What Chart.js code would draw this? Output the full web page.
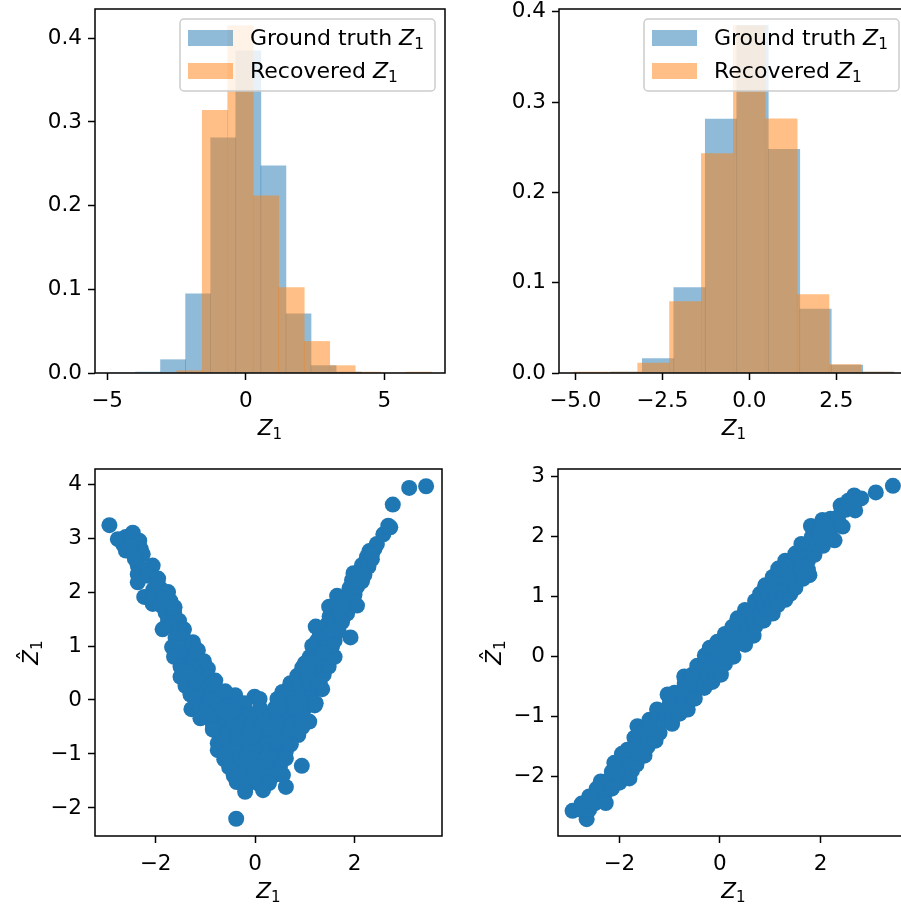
<!DOCTYPE html>
<html>
<head>
<meta charset="utf-8">
<script src="https://cdn.jsdelivr.net/npm/chart.js@4.4.1/dist/chart.umd.min.js"></script>
<style>
  html, body { margin: 0; padding: 0; background: #fff; overflow: hidden; }
  body { width: 901px; height: 906px; position: relative; }
  canvas { position: absolute; }
</style>
</head>
<body>
<canvas id="histLeft" width="450" height="453" style="left:0;top:0;width:450px;height:453px"></canvas>
<canvas id="histRight" width="470" height="453" style="left:450px;top:0;width:470px;height:453px"></canvas>
<canvas id="scatterLeft" width="450" height="453" style="left:0;top:453px;width:450px;height:453px"></canvas>
<canvas id="scatterRight" width="470" height="453" style="left:450px;top:453px;width:470px;height:453px"></canvas>
<script>
// ---- data ----
const seriesLabels = ['Ground truth', 'Recovered'];

// ground truth Z1 histogram (density), same sample in both top panels
const truthEdges = [-4.885, -3.98, -3.075, -2.17, -1.265, -0.36, 0.545, 1.45, 2.355, 3.26, 4.165];
const truthDensity = [0, 0.0011, 0.0159, 0.0947, 0.281, 0.385, 0.2475, 0.0708, 0.0088, 0.0011];

// recovered Z1, left model
const recLeftEdges = [-2.49, -1.57, -0.65, 0.27, 1.19, 2.11, 3.03, 3.95, 4.87, 5.79, 6.71];
const recLeftDensity = [0.0028, 0.314, 0.415, 0.2117, 0.1022, 0.0377, 0.0088, 0.0011, 0, 0.0011];

// recovered Z1, right model
const recRightEdges = [-5.04, -4.12, -3.21, -2.29, -1.38, -0.46, 0.46, 1.375, 2.29, 3.21, 4.13];
const recRightDensity = [0.0011, 0.0011, 0.011, 0.079, 0.243, 0.3846, 0.2813, 0.0867, 0.0092, 0.0011];

// tick labels
const histLeftXTicks = [-5, 0, 5];
const histRightXTicks = [-5, -2.5, 0, 2.5];
const histYTicks = [0, 0.1, 0.2, 0.3, 0.4];
const scatterXTicks = [-2, 0, 2];
const scatterLeftYTicks = [-2, -1, 0, 1, 2, 3, 4];
const scatterRightYTicks = [-2, -1, 0, 1, 2, 3];

// scatter: Z1 vs recovered Z1 (left: V shape)
const vZ = [
  -2.93, -2.46, -2.76, -2.6, -2.65, -2.5, -2.33, -2.6, -2.45, -2.3, -2.26, -2.42, -2.36, -2.06, -2.36,
  -2.36, -1.96, -2.05, -1.9, -1.75, -2.23, -2.05, -1.85, -1.7, -2.06, -1.9, -1.75, -1.8, -1.63,
  -1.75, -1.53, -1.86, -1.7, -1.55, -1.43, -1.6, -1.43, -1.25, -1.67, -1.5, -1.3, -1.15,
  -1.63, -1.43, -1.23, -1.03, -1.5, -1.3, -1.1, -0.95, -1.5, -1.3, -1.1, -0.95, -0.8,
  -1.4, -1.2, -1.0, -0.8, -0.65, -1.3, -1.1, -0.9, -0.7, -0.55, -0.4, -0.01, 0.09,
  -1.28, -1.1, -0.95, -0.75, -0.5, -0.3, -0.21, 0.1,
  -1.1, -0.9, -0.7, -0.5, -0.3, -0.1, 0.1, 0.3, 0.5, 0.7, 0.9, 1.09,
  -0.85, -0.65, -0.45, -0.25, -0.05, 0.15, 0.35, 0.55, 0.75, 0.95,
  -0.73, -0.53, -0.33, -0.13, 0.07, 0.27, 0.47, 0.67, 0.87,
  -0.75, -0.55, -0.35, -0.15, 0.05, 0.25, 0.45, 0.72,
  -0.75, -0.55, -0.35, -0.15, 0.05, 0.25, 0.45, 0.62,
  -0.62, -0.42, -0.22, -0.02, 0.18, 0.4, 0.62,
  -0.52, -0.32, -0.12, 0.08, 0.3, 0.5, 0.94,
  -0.43, -0.23, -0.03, 0.17, 0.37, 0.56,
  -0.37, -0.15, 0.05, 0.28, 0.62, 0.16, -0.38,
  0.4, 0.6, 0.8, 1.0, 1.2, 0.45, 0.65, 0.85, 1.05, 1.22, 0.55, 0.75, 0.95, 1.15, 1.35,
  0.71, 0.9, 1.1, 1.3, 0.85, 1.05, 1.25, 1.38, 0.95, 1.15, 1.35, 1.48, 1.1, 1.3, 1.45, 1.6,
  1.15, 1.3, 1.45, 1.55, 1.25, 1.42, 1.6, 1.92, 1.3, 1.5, 1.68, 1.22, 1.45, 1.65,
  1.5, 1.7, 1.85, 1.49, 1.65, 1.85, 2.05, 1.65, 1.85, 2.0, 1.9, 2.05, 1.95, 2.15, 1.98, 2.1,
  2.15, 2.28, 2.25, 2.35, 2.3, 2.4, 2.45, 2.58, 2.68, 2.72, 2.77, 3.10, 3.44,
  -2.5, -2.2, -2.15, -1.95, -1.62, -1.35, -1.2, -0.85, -0.6, -0.45, -0.65, -0.85, -0.45, 0.3, 0.78,
  1.0, 1.18, 1.38, 1.55, 1.75, 2.2, 2.35, 1.05, 0.62, -0.2, 0.0, 0.25, 0.45, -0.6, 0.82
];
const vZhat = [
  3.24, 3.10, 2.98, 3.02, 2.88, 2.92, 2.95, 2.77, 2.78, 2.8, 2.70, 2.62, 2.49, 2.49, 2.33,
  2.18, 2.15, 2.04, 2.06, 2.0, 1.91, 1.9, 1.88, 1.83, 1.78, 1.76, 1.72, 1.62, 1.62,
  1.47, 1.47, 1.31, 1.38, 1.3, 1.31, 1.15, 1.13, 1.07, 0.98, 0.96, 0.95, 0.92,
  0.8, 0.78, 0.77, 0.72, 0.62, 0.62, 0.6, 0.58, 0.43, 0.45, 0.43, 0.42, 0.36,
  0.26, 0.25, 0.24, 0.22, 0.15, 0.1, 0.08, 0.07, 0.05, 0.02, 0.09, 0.06, 0.02,
  -0.17, -0.1, -0.12, -0.09, -0.09, -0.08, -0.06, -0.15,
  -0.34, -0.3, -0.3, -0.28, -0.28, -0.26, -0.3, -0.3, -0.3, -0.3, -0.3, -0.40,
  -0.45, -0.47, -0.45, -0.45, -0.46, -0.45, -0.47, -0.45, -0.45, -0.5,
  -0.62, -0.62, -0.6, -0.62, -0.6, -0.63, -0.6, -0.62, -0.65,
  -0.8, -0.8, -0.78, -0.8, -0.8, -0.82, -0.8, -0.82,
  -0.93, -0.95, -0.95, -0.97, -0.95, -0.95, -0.95, -0.95,
  -1.1, -1.1, -1.12, -1.1, -1.1, -1.1, -1.08,
  -1.25, -1.25, -1.27, -1.25, -1.25, -1.24, -1.22,
  -1.4, -1.42, -1.4, -1.42, -1.4, -1.39,
  -1.52, -1.55, -1.54, -1.54, -1.61, -1.67, -2.20,
  -0.15, -0.15, -0.17, -0.15, -0.1, 0.02, 0.0, 0.0, 0.0, -0.06, 0.15, 0.15, 0.15, 0.15, 0.2,
  0.31, 0.3, 0.31, 0.32, 0.45, 0.45, 0.45, 0.47, 0.6, 0.62, 0.62, 0.62, 0.8, 0.8, 0.8, 0.8,
  1.0, 0.95, 0.95, 1.0, 1.1, 1.12, 1.1, 1.16, 1.25, 1.25, 1.28, 1.36, 1.4, 1.42,
  1.55, 1.55, 1.6, 1.73, 1.75, 1.75, 1.75, 1.93, 1.93, 1.95, 2.07, 2.1, 2.22, 2.2, 2.35, 2.38,
  2.5, 2.47, 2.65, 2.61, 2.76, 2.8, 2.89, 3.07, 3.23, 3.2, 3.62, 3.93, 3.96,
  2.85, 2.42, 2.3, 2.25, 1.72, 0.52, 0.35, 0.3, 0.16, -0.2, -0.2, -0.55, -1.3, -0.5, -0.05,
  0.68, 0.7, 0.88, 1.3, 1.45, 2.32, 2.7, 0.58, -0.8, -1.7, -1.35, -1.05, -0.75, -1.0, -0.12
];

// scatter: Z1 vs recovered Z1 (right: near identity)
const lineZ = [
  -2.65, -2.93, -2.78, -2.6, -2.75, -2.5, -2.27, -2.6, -2.45, -2.3, -2.45, -2.3, -2.15,
  -2.37, -2.2, -2.0, -1.8, -2.15, -2.0, -1.85, -1.75, -2.1, -1.95, -1.8, -1.66,
  -1.95, -1.8, -1.65, -1.5, -1.84, -1.7, -1.55, -1.44, -1.7, -1.55, -1.4, -1.28,
  -1.64, -1.5, -1.35, -1.2, -1.4, -1.25, -1.1, -0.95, -1.25, -1.1, -0.95, -0.8,
  -1.04, -1.0, -0.85, -0.7, -0.64, -0.9, -0.75, -0.6, -0.5,
  -0.71, -0.7, -0.55, -0.4, -0.31, -0.15, -0.55, -0.4, -0.25, -0.1, 0.02,
  -0.45, -0.3, -0.15, 0.0, 0.1, -0.3, -0.15, 0.0, 0.15, 0.27, -0.2, -0.05, 0.1, 0.25,
  -0.05, 0.1, 0.25, 0.4, 0.5, 0.1, 0.25, 0.4, 0.55, 0.67, 0.25, 0.4, 0.55, 0.7,
  0.35, 0.5, 0.65, 0.8, 0.87, 0.5, 0.65, 0.8, 0.95, 1.05, 0.7, 0.85, 1.0, 1.15, 1.3,
  0.8, 0.95, 1.1, 1.25, 1.4, 0.9, 1.05, 1.2, 1.35, 1.5, 1.05, 1.2, 1.35, 1.5, 1.65, 1.78,
  1.16, 1.3, 1.45, 1.6, 1.75, 1.3, 1.45, 1.6, 1.75, 1.5, 1.65, 1.8, 1.88,
  1.62, 1.78, 1.92, 2.05, 1.83, 1.97, 2.12, 2.28, 1.81, 1.97, 2.1, 2.25, 2.44,
  2.04, 2.2, 2.35, 2.4, 2.5, 2.69, 2.55, 2.67, 2.81, 3.10, 3.44
];
const lineZhat = [
  -2.71, -2.57, -2.55, -2.55, -2.45, -2.45, -2.44, -2.33, -2.3, -2.3, -2.2, -2.2, -2.2,
  -2.08, -2.05, -2.1, -2.03, -1.92, -1.95, -1.92, -1.9, -1.77, -1.78, -1.75, -1.8,
  -1.62, -1.65, -1.6, -1.65, -1.55, -1.5, -1.48, -1.5, -1.35, -1.35, -1.38, -1.4,
  -1.16, -1.22, -1.2, -1.27, -1.05, -1.0, -1.05, -1.12, -0.88, -0.9, -0.92, -0.95,
  -0.63, -0.78, -0.75, -0.78, -0.88, -0.6, -0.6, -0.62, -0.7,
  -0.33, -0.45, -0.45, -0.47, -0.52, -0.42, -0.3, -0.3, -0.3, -0.3, -0.3,
  -0.15, -0.15, -0.15, -0.15, -0.12, 0.02, 0.0, 0.0, 0.0, 0.0, 0.15, 0.12, 0.12, 0.12,
  0.25, 0.25, 0.25, 0.25, 0.2, 0.38, 0.38, 0.38, 0.38, 0.35, 0.5, 0.5, 0.5, 0.5,
  0.64, 0.64, 0.64, 0.64, 0.6, 0.78, 0.78, 0.78, 0.78, 0.72, 0.93, 0.91, 0.91, 0.86, 0.95,
  1.05, 1.05, 1.05, 1.05, 1.05, 1.19, 1.19, 1.19, 1.19, 1.15, 1.33, 1.33, 1.33, 1.33, 1.3, 1.36,
  1.47, 1.47, 1.47, 1.47, 1.45, 1.6, 1.6, 1.6, 1.6, 1.72, 1.75, 1.75, 1.7,
  1.88, 1.88, 1.88, 1.85, 2.0, 2.03, 2.05, 1.94, 2.18, 2.16, 2.2, 2.18, 2.17,
  2.28, 2.3, 2.33, 2.52, 2.45, 2.44, 2.6, 2.69, 2.64, 2.74, 2.85
];

// ---- helpers ----
const FONT = 'DejaVu Sans';
const TICK_SIZE = 21.5;
const LEGEND_SIZE = 22;
const BLUE = '#1f77b4';
const BLUE_A = 'rgba(31,119,180,0.5)';
const ORANGE_A = 'rgba(255,127,14,0.5)';

const minus = s => s.replace('-', '\u2212');
const fmtInt = v => minus(String(v));
const fmt1 = v => minus(v.toFixed(1));

function toBars(edges, heights) {
  return heights.map((h, i) => ({ x: (edges[i] + edges[i + 1]) / 2, y: h }));
}
function toPoints(xs, ys) {
  return xs.map((x, i) => ({ x: x, y: ys[i] }));
}

// italic Z (optionally with hat) and a subscript 1, optional upright prefix
function drawZ1(ctx, x, y, size, opts) {
  const prefix = opts.prefix || '';
  ctx.save();
  ctx.fillStyle = '#000';
  ctx.textBaseline = 'alphabetic';
  ctx.textAlign = 'left';
  ctx.font = `${size}px "${FONT}"`;
  const wp = prefix ? ctx.measureText(prefix).width : 0;
  ctx.font = `italic ${size}px "${FONT}"`;
  const wz = ctx.measureText('Z').width;
  ctx.font = `${size * 0.7}px "${FONT}"`;
  const ws = ctx.measureText('1').width;
  const x0 = opts.center ? x - (wp + wz + ws) / 2 : x;
  if (prefix) {
    ctx.font = `${size}px "${FONT}"`;
    ctx.fillText(prefix, x0, y);
  }
  ctx.font = `italic ${size}px "${FONT}"`;
  ctx.fillText('Z', x0 + wp, y);
  if (opts.hat) {
    ctx.font = `${size}px "${FONT}"`;
    ctx.textAlign = 'center';
    ctx.fillText('\u02C6', x0 + wp + wz * 0.62, y - size * 0.2);
    ctx.textAlign = 'left';
  }
  ctx.font = `${size * 0.7}px "${FONT}"`;
  ctx.fillText('1', x0 + wp + wz, y + size * 0.2);
  ctx.restore();
}

// matplotlib look: box spines, axis labels, legend
const mplDecor = {
  id: 'mplDecor',
  afterDatasetsDraw(chart, args, opts) {
    const ctx = chart.ctx;
    const a = chart.chartArea;
    ctx.save();
    ctx.strokeStyle = '#000';
    ctx.lineWidth = 1.5;
    ctx.strokeRect(a.left, a.top, a.right - a.left, a.bottom - a.top);
    ctx.restore();

    drawZ1(ctx, (a.left + a.right) / 2, a.bottom + 62, TICK_SIZE, { center: true });
    if (opts.yTitle) {
      ctx.save();
      ctx.translate(a.left - 57.5, (a.top + a.bottom) / 2);
      ctx.rotate(-Math.PI / 2);
      drawZ1(ctx, 0, 0, TICK_SIZE, { center: true, hat: true });
      ctx.restore();
    }
    if (opts.legend) {
      const w = 255, h = 72;
      const lx = a.right - 10 - w, ly = a.top + 10;
      ctx.save();
      ctx.beginPath();
      ctx.roundRect(lx, ly, w, h, 4);
      ctx.fillStyle = 'rgba(255,255,255,0.8)';
      ctx.fill();
      ctx.strokeStyle = '#cccccc';
      ctx.lineWidth = 1.5;
      ctx.stroke();
      const colors = [BLUE_A, ORANGE_A];
      seriesLabels.forEach((lab, i) => {
        ctx.fillStyle = colors[i];
        ctx.fillRect(lx + 8, ly + 11 + i * 33, 45, 16);
        drawZ1(ctx, lx + 70, ly + 26 + i * 32.5, LEGEND_SIZE, { prefix: lab + ' ' });
      });
      ctx.restore();
    }
  }
};

function axis(min, max, tickVals, fmt, size, display) {
  const horizontal = size.h !== undefined;
  return {
    type: 'linear',
    display: display !== false,
    min: min,
    max: max,
    offset: false,
    grid: { display: true, drawOnChartArea: false, drawTicks: true, tickLength: 7,
            tickWidth: 1.5, tickColor: '#000', offset: false },
    border: { display: false },
    ticks: { color: '#000', font: { family: FONT, size: TICK_SIZE }, padding: horizontal ? 9 : 6,
             autoSkip: false, maxRotation: 0, includeBounds: false, callback: fmt },
    afterBuildTicks: s => { s.ticks = tickVals.map(v => ({ value: v })); },
    afterFit: s => {
      if (horizontal) { s.height = size.h; s.paddingLeft = 0; s.paddingRight = 0; }
      else { s.width = size.w; s.paddingTop = 0; s.paddingBottom = 0; }
    }
  };
}

const base = {
  responsive: false,
  animation: false,
  devicePixelRatio: 1,
  events: [],
  plugins: { legend: { display: false }, tooltip: { enabled: false } }
};

function histChart(id, recEdges, recDensity, xMin, xMax, yMax, xTicks, xFmt, yW, padRight) {
  new Chart(document.getElementById(id), {
    type: 'bar',
    data: {
      datasets: [
        { label: seriesLabels[0], data: toBars(truthEdges, truthDensity), xAxisID: 'x',
          backgroundColor: BLUE_A, borderWidth: 0, barPercentage: 1, categoryPercentage: 1,
          grouped: false, order: 2 },
        { label: seriesLabels[1], data: toBars(recEdges, recDensity), xAxisID: 'x2',
          backgroundColor: ORANGE_A, borderWidth: 0, barPercentage: 1, categoryPercentage: 1,
          grouped: false, order: 1 }
      ]
    },
    options: Object.assign({}, base, {
      layout: { padding: { top: 9, right: padRight, left: 0, bottom: 0 } },
      scales: {
        x: axis(xMin, xMax, xTicks, xFmt, { h: 80 }),
        x2: axis(xMin, xMax, xTicks, xFmt, { h: 0 }, false),
        y: axis(0, yMax, histYTicks, fmt1, { w: yW })
      },
      plugins: Object.assign({}, base.plugins, { mplDecor: { legend: true } })
    }),
    plugins: [mplDecor]
  });
}

function scatterChart(id, xs, ys, yMin, yMax, yTicks, yW, padRight) {
  new Chart(document.getElementById(id), {
    type: 'scatter',
    data: {
      datasets: [{ data: toPoints(xs, ys), backgroundColor: BLUE, borderColor: BLUE,
                   borderWidth: 0, pointRadius: 8, pointHoverRadius: 8 }]
    },
    options: Object.assign({}, base, {
      layout: { padding: { top: 16, right: padRight, left: 0, bottom: 0 } },
      scales: {
        x: axis(-3.22, 3.76, scatterXTicks, fmtInt, { h: 70 }),
        y: axis(yMin, yMax, yTicks, fmtInt, { w: yW })
      },
      plugins: Object.assign({}, base.plugins, { mplDecor: { yTitle: true } })
    }),
    plugins: [mplDecor]
  });
}

histChart('histLeft', recLeftEdges, recLeftDensity, -5.44, 7.19, 0.435, histLeftXTicks, fmtInt, 95, 5);
histChart('histRight', recRightEdges, recRightDensity, -5.47, 4.59, 0.403, histRightXTicks, fmt1, 109, 11);
scatterChart('scatterLeft', vZ, vZhat, -2.52, 4.28, scatterLeftYTicks, 95, 4);
scatterChart('scatterRight', lineZ, lineZhat, -2.99, 3.13, scatterRightYTicks, 108, 11);
</script>
</body>
</html>
